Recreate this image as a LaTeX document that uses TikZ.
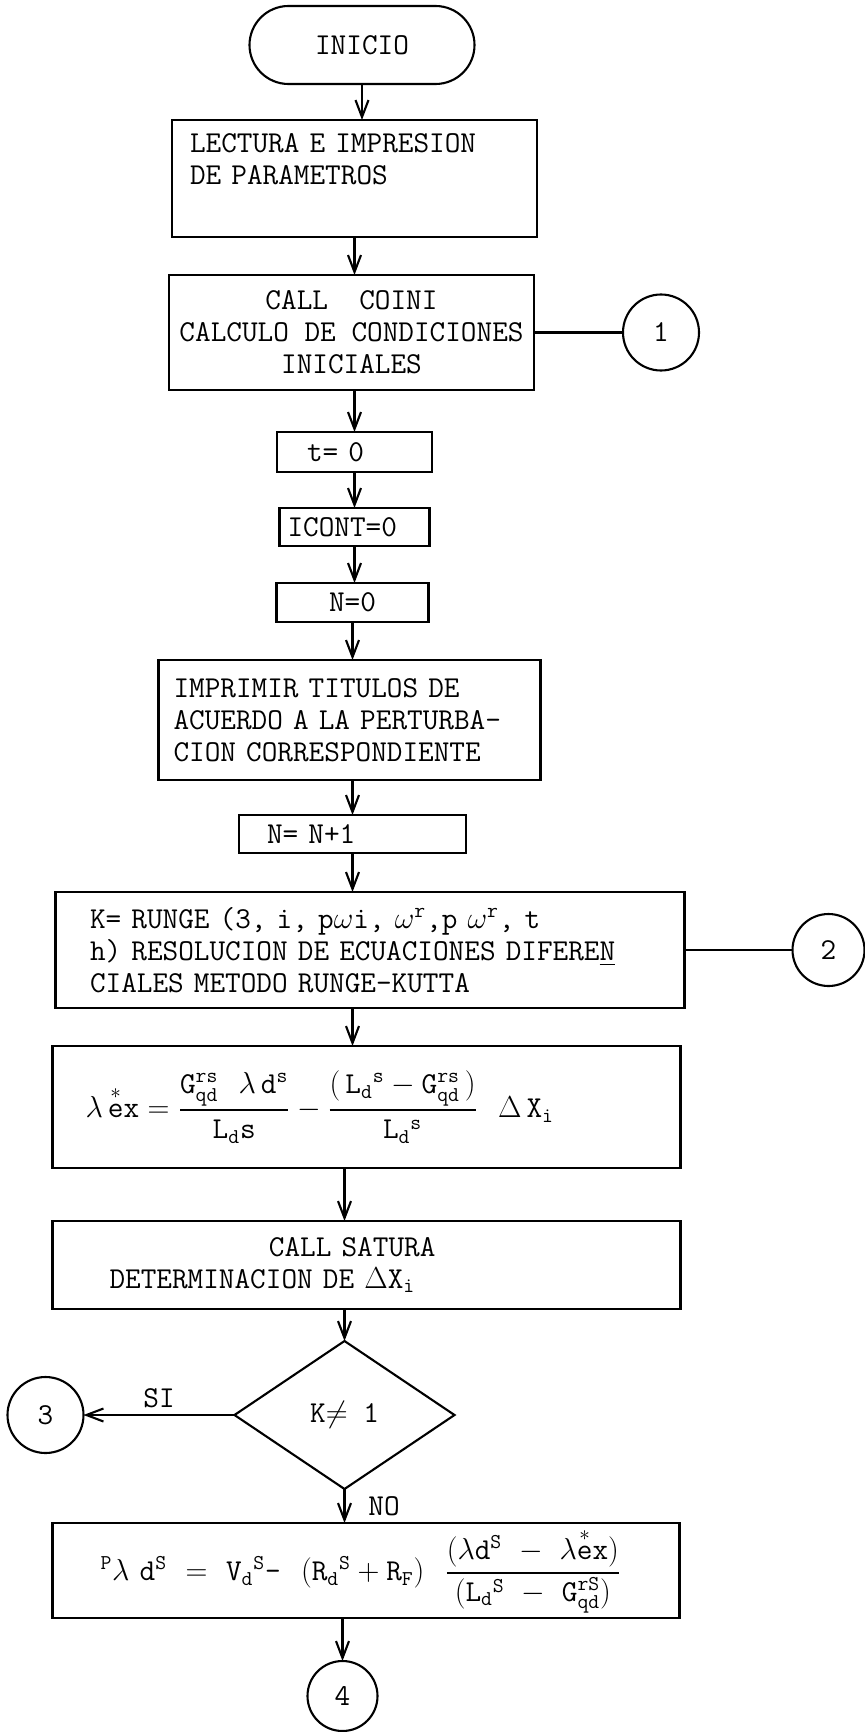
\documentclass[tikz,border=0pt]{standalone}
\usepackage{amsmath}
\usepackage{fontspec}
\usepackage{tikz}
\usetikzlibrary{shapes.geometric, positioning, arrows.meta}

\begin{document}
\begin{tikzpicture}[
			font=\fontsize{17.28}{18.2}\selectfont\ttfamily,
			proceso/.style={
				rectangle,
				draw,
				line width=1.2pt,
				outer sep=0pt,
				inner ysep=0pt
			},
			terminal/.style={
				rectangle,
				rounded corners=0.78cm,
				draw,
				line width=1.2pt,
				outer sep=0pt,
				minimum width=4.5cm,
				minimum height=1.56cm
			},
			decision/.style={
				diamond,
				draw,
				line width=1.2pt,
				outer sep=0pt,
				aspect=1.49,
				inner sep=0pt,
				minimum width=4.4cm,
				minimum height=2.96cm
			},
			conector/.style={
				circle,
				draw,
				line width=1.2pt,
				outer sep=0pt,
				inner sep=0pt
			},
			flecha/.style={
				-{Straight Barb[length=0.34cm, width=0.26cm]},
				line width=1.2pt
			}
			]
			
			\useasboundingbox (0,0) rectangle (17.3,-34.64);
			
			\node[terminal] (inicio) at (7.24,-0.90) {INICIO};
			
			\node[proceso, text height=0.66cm, text depth=1.68cm, text width=6.58cm, inner xsep=0.36cm, align=left,
			below=0.72cm of inicio, xshift=-0.15cm] (lectura)
			{LECTURA E IMPRESION\\DE PARAMETROS};
			
			\node[proceso, minimum width=7.30cm, minimum height=2.30cm, inner xsep=0.1cm, align=center,
			below=0.76cm of lectura, xshift=-0.06cm] (coini)
			{CALL\ \ COINI\\CALCULO DE CONDICIONES\\INICIALES};
			
			\node[conector, minimum size=1.52cm, right=1.78cm of coini] (c1) {1};
			
			\node[proceso, minimum height=0.80cm, text width=1.9cm, inner xsep=0.6cm, align=left,
			below=0.84cm of coini, xshift=0.06cm] (t0) {t=\ 0};
			
			\node[proceso, minimum height=0.76cm, text width=2.68cm, inner xsep=0.16cm, align=left,
			below=0.72cm of t0] (icont) {ICONT=0};
			
			\node[proceso, minimum width=3.04cm, minimum height=0.78cm,
			below=0.74cm of icont, xshift=-0.04cm] (n0) {N=0};
			
			\node[proceso, minimum height=2.40cm, text width=7.04cm, inner xsep=0.30cm, align=left,
			below=0.76cm of n0, xshift=-0.06cm] (imprimir)
			{IMPRIMIR TITULOS DE\\ACUERDO A LA PERTURBA-\\CION CORRESPONDIENTE};
			
			\node[proceso, minimum height=0.76cm, text width=3.42cm, inner xsep=0.56cm, align=left,
			below=0.70cm of imprimir, xshift=0.06cm] (nmas) {N= N+1};
			
			\node[proceso, minimum height=2.32cm, text width=11.2cm, inner xsep=0.69cm, align=left,
			below=0.78cm of nmas, xshift=0.35cm] (runge)
			{K= RUNGE (3, i, p$\omega$i, $\omega^{\mathtt{r}}$,p $\omega^{\mathtt{r}}$, t\\
			h) RESOLUCION DE ECUACIONES DIFERE\underline{N}\\
			CIALES METODO RUNGE-KUTTA};
			
			\node[conector, minimum size=1.44cm, right=2.16cm of runge] (c2) {2};
			
			\node[proceso, minimum height=2.44cm, text width=11.24cm, inner xsep=0.66cm, align=left,
			below=0.76cm of runge, xshift=-0.07cm] (lambda)
			{$\lambda\,\overset{*}{\mathtt{e}}\mathtt{x} = \dfrac{\mathtt{G}^{\mathtt{rs}}_{\mathtt{qd}}\ \ \lambda\,\mathtt{d}^{\mathtt{s}}}{\mathtt{L}_{\mathtt{d}}\mathtt{s}}
			-\dfrac{(\,\mathtt{L}_{\mathtt{d}}{}^{\mathtt{s}}-\mathtt{G}^{\mathtt{rs}}_{\mathtt{qd}}\,)}{\mathtt{L}_{\mathtt{d}}{}^{\mathtt{s}}}\ \ \Delta\,\mathtt{X}_{\mathtt{i}}$};
			
			\node[proceso, minimum height=1.76cm, text width=10.28cm, inner xsep=1.14cm, align=left,
			below=1.06cm of lambda] (satura)
			{\hspace*{5.25em}CALL SATURA\\DETERMINACION DE $\Delta$X$_{\mathtt{i}}$};
			
			\node[decision, below=0.64cm of satura, xshift=-0.44cm] (pregunta) {K$\neq$ 1};
			
			\node[conector, minimum size=1.52cm, left=3.02cm of pregunta] (c3) {3};
			
			\node[proceso, minimum height=1.90cm, text width=10.62cm, inner xsep=0.96cm, align=left,
			below=0.68cm of pregunta, xshift=0.43cm] (flujo)
			{${}^{\mathtt{P}}\lambda\ \mathtt{d}^{\mathtt{S}}\ =\ \mathtt{V}_{\mathtt{d}}{}^{\mathtt{S}}\text{-}\ \ (\mathtt{R}_{\mathtt{d}}{}^{\mathtt{S}}+\mathtt{R}_{\mathtt{F}})\ \
			\dfrac{(\lambda\mathtt{d}^{\mathtt{S}}\ -\ \lambda\overset{*}{\mathtt{e}}\mathtt{x})}{(\mathtt{L}_{\mathtt{d}}{}^{\mathtt{S}}\ -\ \mathtt{G}^{\mathtt{rS}}_{\mathtt{qd}})}$};
			
			\node[conector, minimum size=1.40cm, below=0.86cm of flujo, xshift=-0.47cm] (c4) {4};
			
			\draw[flecha] (inicio.south) -- (inicio.south |- lectura.north);
			\draw[flecha] (lectura.south) -- (lectura.south |- coini.north);
			\draw[flecha] (t0.north |- coini.south) -- (t0.north);
			\draw[flecha] (t0.south) -- (t0.south |- icont.north);
			\draw[flecha] (icont.south) -- (icont.south |- n0.north);
			\draw[flecha] (n0.south) -- (n0.south |- imprimir.north);
			\draw[flecha] (nmas.north |- imprimir.south) -- (nmas.north);
			\draw[flecha] (nmas.south) -- (nmas.south |- runge.north);
			\draw[flecha] (runge.south -| nmas.south) -- (lambda.north -| nmas.south);
			\draw[flecha] (lambda.south -| pregunta.north) -- (satura.north -| pregunta.north);
			\draw[flecha] (satura.south -| pregunta.north) -- (pregunta.north);
			\draw[flecha] (pregunta.south) -- (pregunta.south |- flujo.north)
			node[midway, right=0.34cm] {NO};
			\draw[flecha] (pregunta.west) -- (c3.east)
			node[midway, above] {SI};
			\draw[flecha] (flujo.south -| c4.north) -- (c4.north);
			
			\draw[line width=1.2pt] (coini.east) -- (c1.west);
			\draw[line width=1.2pt] (runge.east) -- (c2.west);
			
		\end{tikzpicture}
\end{document}
